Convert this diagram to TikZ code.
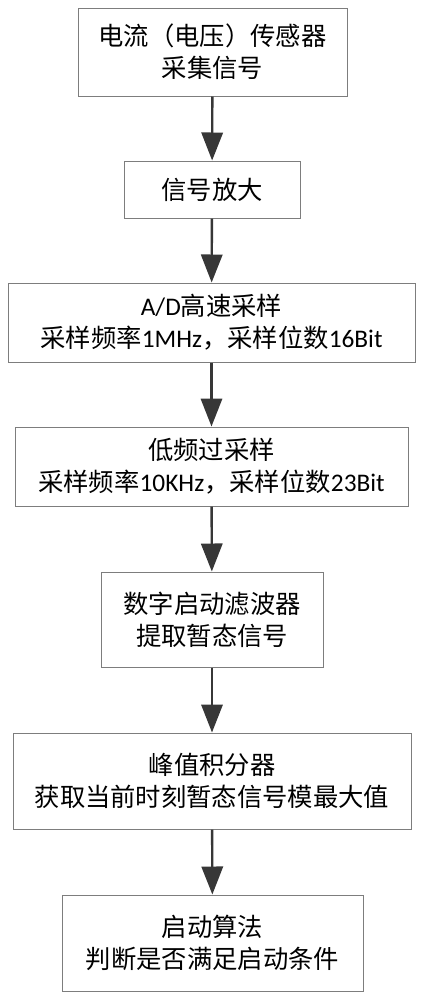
\documentclass[tikz,border=0pt]{standalone}
\usepackage{fontspec}
\setmainfont{Noto Sans CJK SC}
\newfontfamily\latin{Carlito}
\usetikzlibrary{arrows.meta}

\definecolor{boxgray}{RGB}{125,125,125}
\definecolor{arrowgray}{RGB}{55,55,55}

\begin{document}
\begin{tikzpicture}[x=0.75pt,y=-0.75pt,
    box/.style={draw=boxgray, line width=0.75pt, align=center, inner sep=0pt,
      font=\fontsize{19}{24}\selectfont},
    flow/.style={draw=arrowgray, line width=1.8pt,
      -{Triangle[width=16pt,length=21pt]}}]

    % Marco
    \useasboundingbox (0,0) rectangle (426,1000);

    % Sensor
    \node[box, minimum width=201.75pt, minimum height=66pt] (sensor) at (212.5,52)
      {电流（电压）传感器\\采集信号};

    % Amplificador
    \node[box, minimum width=132pt, minimum height=42.75pt] (amp) at (212,189.5)
      {信号放大};

    % Muestreo A/D
    \node[box, minimum width=305.25pt, minimum height=59.25pt] (adc) at (211.5,322.5)
      {{\latin A/D}高速采样\\采样频率{\latin 1MHz}，采样位数{\latin 16Bit}};

    % Sobremuestreo
    \node[box, minimum width=294.75pt, minimum height=59.25pt] (oversample) at (211.5,466.5)
      {低频过采样\\采样频率{\latin 10KHz}，采样位数{\latin 23Bit}};

    % Filtro
    \node[box, minimum width=166.5pt, minimum height=71.25pt] (filter) at (212,619.5)
      {数字启动滤波器\\提取暂态信号};

    % Integrador de pico
    \node[box, minimum width=298.5pt, minimum height=72pt] (peak) at (212,781)
      {峰值积分器\\获取当前时刻暂态信号模最大值};

    % Algoritmo de arranque
    \node[box, minimum width=225.75pt, minimum height=72pt] (start) at (212.5,943)
      {启动算法\\判断是否满足启动条件};

    % Flechas
    \draw[flow] (sensor) -- (amp);
    \draw[flow] (amp) -- (adc);
    \draw[flow] (adc) -- (oversample);
    \draw[flow] (oversample) -- (filter);
    \draw[flow] (filter) -- (peak);
    \draw[flow] (peak) -- (start);

\end{tikzpicture}
\end{document}
